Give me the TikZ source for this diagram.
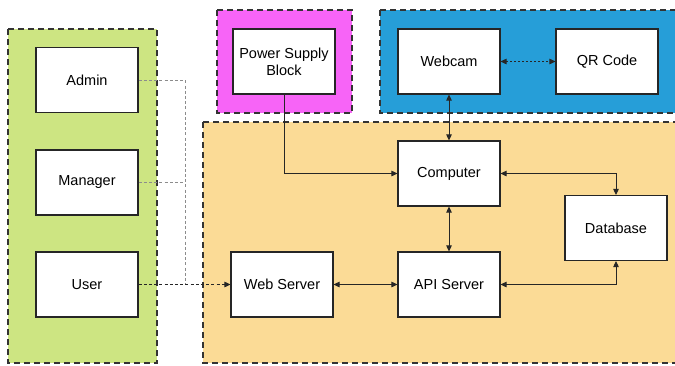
\documentclass[tikz,border=0pt]{standalone}
\usepackage{fontspec}
\setmainfont{Liberation Sans}
\usetikzlibrary{arrows.meta}
\definecolor{grpgreen}{RGB}{205,229,130}
\definecolor{grpmagenta}{RGB}{247,100,247}
\definecolor{grpblue}{RGB}{38,158,216}
\definecolor{grporange}{RGB}{251,219,150}
\tikzset{
  panel/.style={draw=black!80, line width=1.3pt, dash pattern=on 6pt off 4pt},
  block/.style={draw=black!85, line width=1.1pt, fill=white, minimum width=102pt,
    minimum height=65pt, inner sep=0pt, align=center,
    font=\fontsize{14.5}{17}\selectfont},
  link/.style={draw=black!85, line width=0.9pt},
  tip/.style={-{Triangle[length=6pt,width=5.5pt]}},
  tips/.style={{Triangle[length=6pt,width=5.5pt]}-{Triangle[length=6pt,width=5.5pt]}},
  roleline/.style={draw=black!45, line width=0.9pt, dash pattern=on 3pt off 2.2pt},
}
\begin{document}
\begin{tikzpicture}[x=1pt,y=-1pt]
\useasboundingbox[fill=white] (0,0) rectangle (675,365);

% group backgrounds
\filldraw[panel, fill=grpgreen] (8,29) rectangle (157,363);
\filldraw[panel, fill=grpmagenta] (217,10) rectangle (352,113);
\filldraw[panel, fill=grpblue] (380,10) rectangle (690,113);
\filldraw[panel, fill=grporange] (203,122) rectangle (690,363);

% blocks
\node[block] (admin)   at (87,80)    {Admin};
\node[block] (manager) at (87,182.5) {Manager};
\node[block] (user)    at (87,284.5) {User};
\node[block] (power)   at (284,61.5) {Power Supply\\Block};
\node[block] (webcam)  at (449,61.5) {Webcam};
\node[block] (qr)      at (607,61.5) {QR Code};
\node[block] (comp)    at (449,173.5){Computer};
\node[block] (db)      at (616,228)  {Database};
\node[block] (web)     at (282,284.5){Web Server};
\node[block] (api)     at (449,284.5){API Server};

\coordinate (bus) at (185,284.5);

% role connections
\draw[roleline] (admin.east) -| (bus);
\draw[roleline] (manager.east) -- (manager.east -| bus);
\draw[link, tip, dash pattern=on 3pt off 2.2pt] (user.east) -- (web.west);

% hardware and service links
\draw[link, tip] (power.south) |- (comp.west);
\draw[link, tips] (webcam.south) -- (comp.north);
\draw[link, tips, dash pattern=on 2pt off 2pt] (webcam.east) -- (qr.west);
\draw[link, tips] (comp.east) -| (db.north);
\draw[link, tips] (comp.south) -- (api.north);
\draw[link, tips] (web.east) -- (api.west);
\draw[link, tips] (api.east) -| (db.south);
\end{tikzpicture}
\end{document}
